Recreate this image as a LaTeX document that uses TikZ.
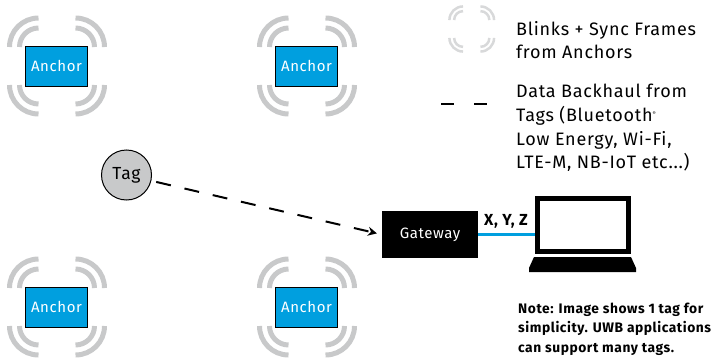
\documentclass[tikz,border=0pt]{standalone}
\usepackage{fontspec}
\setmainfont[LetterSpace=4]{Fira Sans}
\usetikzlibrary{arrows.meta,positioning,calc}
\definecolor{anchorblue}{HTML}{009FDF}
\definecolor{wavegray}{HTML}{C8C9CA}
\definecolor{legendgray}{HTML}{D8D9DA}
\tikzset{
  pics/waves/.style 2 args={code={
    \foreach \r in {19,29}
      \foreach \a/\cx/\cy in {0/19/19,90/-18/19,180/-18/-19,270/19/-19}
        \draw[line width=#1,draw=#2] (\cx,\cy) ++(\a:\r) arc (\a:\a+90:\r);
  }}
}
\begin{document}
\begin{tikzpicture}[x=1pt, y=1pt, >={Stealth[length=9pt,width=9pt]}, node distance=250pt]
\tikzstyle{every node}=[font=\fontsize{18pt}{23.7pt}\selectfont, text=black, inner sep=0pt]
\tikzstyle{anchorbox}=[fill=anchorblue,draw=black,line width=1pt,minimum width=62pt,minimum height=40pt,text=white,font=\fontsize{15pt}{16pt}\selectfont]
\tikzstyle{legend}=[align=left,anchor=north west]
\useasboundingbox (0,0) rectangle (720,360);
\node[anchorbox]    (A) at (56.5,294)     {Anchor};
\node[anchorbox]    (B)[right of=A]       {Anchor};
\node[anchorbox]    (C)[below of=A, node distance=241pt] {Anchor};
\node[anchorbox]    (D)[right of=C]       {Anchor};
\foreach \n in {A,B,C,D}
  \path (\n) pic {waves={5pt}{wavegray}};
\node[circle,fill=wavegray,draw=black,line width=1pt,minimum size=50pt,font=\fontsize{17.5pt}{20pt}\selectfont] (Tag) at (126.5,185) {Tag};
\node[fill=black,text=white,minimum width=96pt,minimum height=47pt,font=\fontsize{15pt}{16pt}\selectfont] (Gateway) at (430,125.5) {Gateway};
\node[draw=black,fill=white,line width=5pt,minimum width=91pt,minimum height=53pt] (Laptop) at (583,135) {};
\fill[black] (534,103) -- (631,103) -- (636,92) -- (636,88) -- (529,88) -- (529,92) -- cycle;
\draw[->,line width=2pt,dash pattern=on 15pt off 14pt,shorten <=5pt,shorten >=5pt] (Tag) -- (Gateway.west);
\draw[anchorblue,line width=2.5pt] (Gateway.east) -- (Gateway.east -| Laptop.west);
\node (XYZ) at (506,138.5) {\fontsize{16pt}{17pt}\selectfont\bfseries X, Y, Z};
\path (471.5,331) pic[scale=.47] {waves={2.5pt}{legendgray}};
\coordinate (DashL) at (441,256);
\coordinate (DashR) at (487,256);
\draw[line width=2pt,dash pattern=on 13pt off 20pt] (DashL) -- (DashR);
\node[legend] (Blinks) at (516,339) {Blinks + Sync Frames\\from Anchors};
\node[legend] (Backhaul) at (516,276) {Data Backhaul from\\Tags (Bluetooth\textsuperscript{\tiny ®}\\Low Energy, Wi-Fi,\\LTE-M, NB-IoT etc...)};
\node[legend,font=\fontsize{13.8pt}{19.5pt}\selectfont\bfseries] (Note) at (518,57.5) {Note: Image shows 1 tag for\\simplicity. UWB applications\\can support many tags.};
\end{tikzpicture}
\end{document}
